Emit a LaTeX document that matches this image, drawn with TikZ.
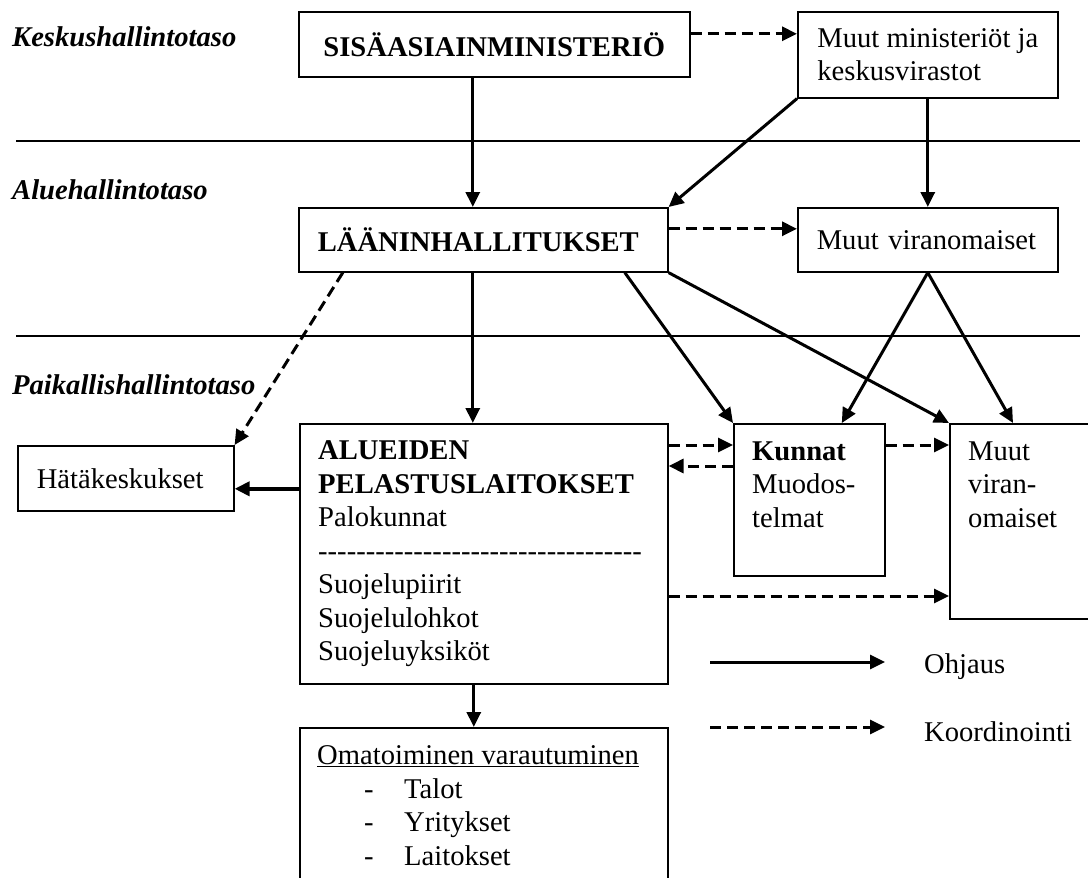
\documentclass[tikz,border=0pt]{standalone}
\usepackage{fontspec}
\setmainfont{Liberation Serif}
\usepackage{tikz}
\usetikzlibrary{arrows.meta}
\newcommand{\koko}{\fontsize{28.6}{33.5}\selectfont}
\newcommand{\viivarivi}{\foreach \n in {1,...,34}{-\kern0pt}}
\newcommand{\kohta}[1]{\hspace*{47pt}-\hspace*{30.5pt}#1}
\tikzstyle{laatikko} = [rectangle, draw=black, line width=1.6pt, anchor=north west, inner sep=0pt]
\tikzstyle{vasen} = [laatikko, align=left, inner xsep=19pt]
\tikzstyle{sisus} = [anchor=north west, inner sep=0pt, align=left]
\tikzstyle{taso} = [anchor=west, inner sep=0pt]
\tikzstyle{ohjaus} = [line width=3pt, -{Triangle[length=15pt,width=14pt]}]
\tikzstyle{koord} = [ohjaus, dash pattern=on 11pt off 6pt]
\tikzstyle{raja} = [line width=1.6pt]

\begin{document}
\begin{tikzpicture}[x=1pt, y=-1pt, every node/.style={font=\koko}]
\useasboundingbox (0,0) rectangle (1088,878);
% tasot
\node (keskus) [taso] at (12,37) {\textbf{\textit{Keskushallintotaso}}};
\node (alue-taso) [taso] at (12,190) {\textbf{\textit{Aluehallintotaso}}};
\node (paikallis) [taso] at (12,385) {\textbf{\textit{Paikallishallintotaso}}};
\draw[raja] (16,141) -- (1080,141);
\draw[raja] (16,336) -- (1080,336);
% laatikot
\node (sis) [laatikko, minimum width=391pt, minimum height=65pt] at (298,11) {\textbf{SISÄASIAINMINISTERIÖ}};
\node (muutmin) [laatikko, align=left, minimum width=260pt, minimum height=86pt] at (797,11) {Muut ministeriöt ja\\keskusvirastot};
\node (laan) [vasen, text width=331pt, minimum height=64pt] at (298,207) {\textbf{LÄÄNINHALLITUKSET}};
\node (muutvir) [vasen, text width=222pt, minimum height=64pt] at (797,207) {Muut viranomaiset};
\node (hata) [vasen, text width=178pt, minimum height=65pt] at (17,445) {Hätäkeskukset};
\node (alue) [laatikko, minimum width=368pt, minimum height=260pt] at (299,423) {};
\node (kunnat) [laatikko, minimum width=151pt, minimum height=152pt] at (733,423) {};
\node (muut2) [laatikko, minimum width=170pt, minimum height=195pt] at (949,423) {};
\node (oma) [laatikko, minimum width=368pt, minimum height=170pt] at (299,727) {};
\node (aluetext) [sisus] at ([xshift=19pt,yshift=-17.5pt]alue.north west) {\textbf{ALUEIDEN}\\\textbf{PELASTUSLAITOKSET}\\Palokunnat\\\viivarivi\\Suojelupiirit\\Suojelulohkot\\Suojeluyksiköt};
\node (kunnattext) [sisus] at ([xshift=19pt,yshift=-18.5pt]kunnat.north west) {\textbf{Kunnat}\\Muodos-\\telmat};
\node (muut2text) [sisus] at ([xshift=19pt,yshift=-18.5pt]muut2.north west) {Muut\\viran-\\omaiset};
\node (omatext) [sisus] at ([xshift=18pt,yshift=-18.5pt]oma.north west) {\underline{Omatoiminen varautuminen}\\\kohta{Talot}\\\kohta{Yritykset}\\\kohta{Laitokset}};
% ohjaus
\draw[ohjaus] ([xshift=-21.5pt]sis.south) -- ([xshift=-21.5pt]sis.south |- laan.north);
\draw[ohjaus] (muutmin.south west) -- (laan.north east);
\draw[ohjaus] (muutmin.south) -- (muutvir.north);
\draw[ohjaus] ([xshift=-10.5pt]laan.south) -- ([xshift=-10.5pt]laan.south |- alue.north);
\draw[ohjaus] ([xshift=141.5pt]laan.south) -- (kunnat.north west);
\draw[ohjaus] (laan.south east) -- (muut2.north west);
\draw[ohjaus] (muutvir.south) -- ([xshift=32.5pt]kunnat.north);
\draw[ohjaus] (muutvir.south) -- ([xshift=64pt]muut2.north west);
\draw[ohjaus, line width=4.5pt] ([yshift=65pt]alue.west) -- ([yshift=65pt]alue.west -| hata.east);
\draw[ohjaus] ([xshift=-10pt]alue.south) -- ([xshift=-10pt]alue.south |- oma.north);
% koordinointi
\draw[koord] ([yshift=10.5pt]sis.east) -- ([yshift=10.5pt]sis.east -| muutmin.west);
\draw[koord] ([yshift=11pt]laan.east) -- ([yshift=11pt]laan.east -| muutvir.west);
\draw[koord] ([xshift=-140.5pt]laan.south) -- (hata.north east);
\draw[koord] ([yshift=-22pt]alue.north east) -- ([yshift=-22pt]alue.north east -| kunnat.west);
\draw[koord] ([yshift=-43pt]kunnat.north west) -- ([yshift=-43pt]kunnat.north west -| alue.east);
\draw[koord] ([yshift=-22pt]kunnat.north east) -- ([yshift=-22pt]kunnat.north east -| muut2.west);
\draw[koord] ([yshift=-173pt]alue.north east) -- ([yshift=-173pt]alue.north east -| muut2.west);
% selite
\coordinate (ohjA) at (710,662);
\coordinate (ohjB) at (885,662);
\coordinate (koordA) at (710,727);
\coordinate (koordB) at (885,727);
\draw[ohjaus] (ohjA) -- (ohjB);
\draw[koord] (koordA) -- (koordB);
\node (ohjaus-sel) [taso] at (924,667) {Ohjaus};
\node (koord-sel) [taso] at (924,732) {Koordinointi};
\end{tikzpicture}
\end{document}
